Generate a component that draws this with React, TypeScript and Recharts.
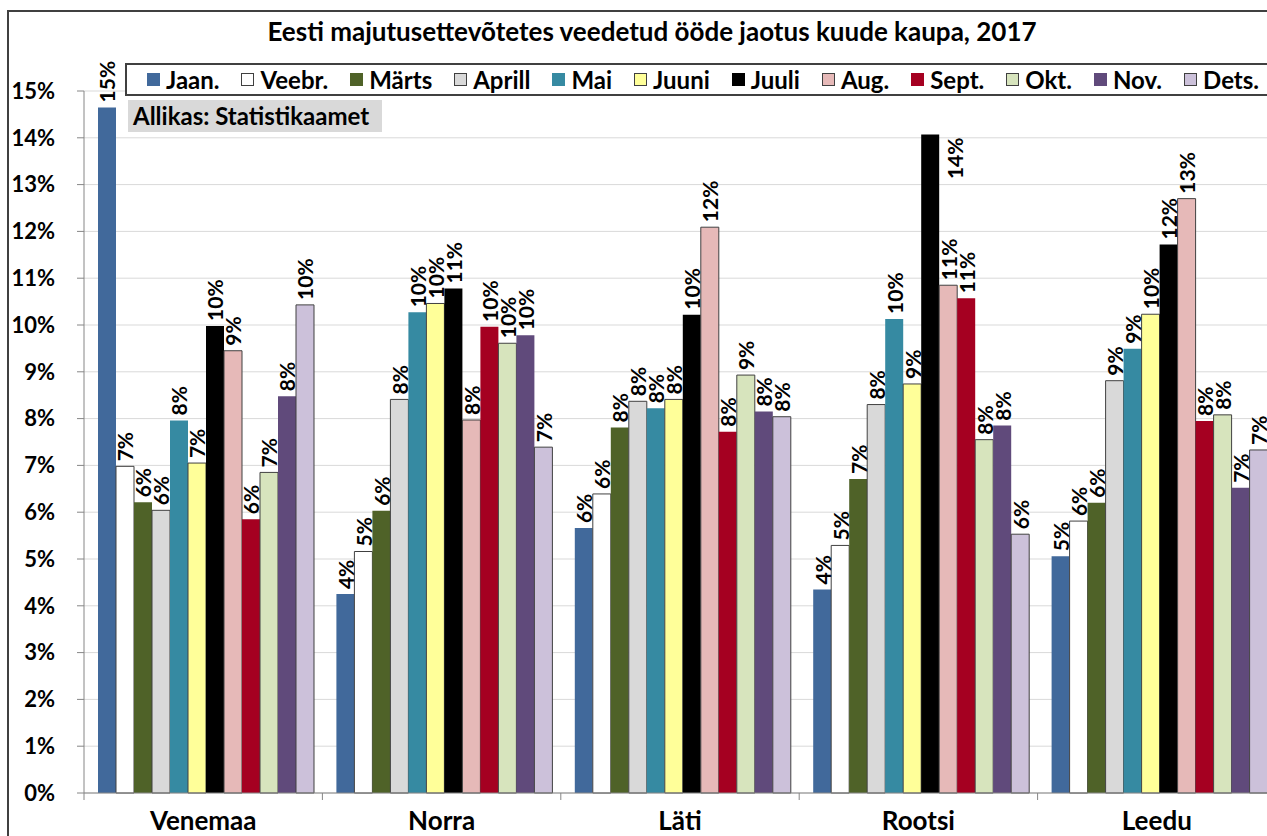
import React from 'react';
import { BarChart, Bar, XAxis, YAxis, CartesianGrid, LabelList } from 'recharts';

const FONT = 'Lato, "Open Sans", sans-serif';

// countries (categories)
const countries = ['Venemaa', 'Norra', 'Läti', 'Rootsi', 'Leedu'];

// share of nights by month, % (Venemaa, Norra, Läti, Rootsi, Leedu)
const jaan = [14.65, 4.25, 5.66, 4.35, 5.06];
const veebr = [6.98, 5.16, 6.39, 5.29, 5.81];
const marts = [6.21, 6.03, 7.81, 6.71, 6.2];
const aprill = [6.04, 8.41, 8.37, 8.3, 8.81];
const mai = [7.96, 10.27, 8.22, 10.13, 9.49];
const juuni = [7.05, 10.46, 8.41, 8.74, 10.23];
const juuli = [9.98, 10.78, 10.22, 14.07, 11.72];
const aug = [9.45, 7.97, 12.09, 10.85, 12.7];
const sept = [5.85, 9.96, 7.72, 10.57, 7.95];
const okt = [6.85, 9.61, 8.93, 7.55, 8.08];
const nov = [8.48, 9.78, 8.15, 7.85, 6.52];
const dets = [10.43, 7.39, 8.04, 5.53, 7.33];

const yTicks = [0, 1, 2, 3, 4, 5, 6, 7, 8, 9, 10, 11, 12, 13, 14, 15];

const series = [
    { key: 'jaan', name: 'Jaan.', values: jaan, fill: '#41699b', outline: false },
    { key: 'veebr', name: 'Veebr.', values: veebr, fill: '#ffffff', outline: true },
    { key: 'marts', name: 'Märts', values: marts, fill: '#4f6228', outline: false },
    { key: 'aprill', name: 'Aprill', values: aprill, fill: '#d9d9d9', outline: true },
    { key: 'mai', name: 'Mai', values: mai, fill: '#368aa2', outline: false },
    { key: 'juuni', name: 'Juuni', values: juuni, fill: '#ffff99', outline: true },
    { key: 'juuli', name: 'Juuli', values: juuli, fill: '#000000', outline: false },
    { key: 'aug', name: 'Aug.', values: aug, fill: '#e6b9b8', outline: true },
    { key: 'sept', name: 'Sept.', values: sept, fill: '#a50021', outline: false },
    { key: 'okt', name: 'Okt.', values: okt, fill: '#d7e4bd', outline: true },
    { key: 'nov', name: 'Nov.', values: nov, fill: '#604a7b', outline: false },
    { key: 'dets', name: 'Dets.', values: dets, fill: '#ccc1da', outline: true },
];

const data = countries.map((country, i) => {
    const row: Record<string, any> = { country };
    series.forEach(s => { row[s.key] = s.values[i]; });
    return row;
});

const PLOT_LEFT = 84;
const PLOT_RIGHT_MARGIN = 16;
const PLOT_W = 1192;
const CHART_W = PLOT_LEFT + PLOT_W + PLOT_RIGHT_MARGIN;
const CHART_H = 836;
const PLOT_TOP = 91;
const X_AXIS_H = 43;
const LEGEND_LEFT = 125;
const LEGEND_TOP = 63;
const LEGEND_BOTTOM = 94;
const LABEL_SIZE = 21;

const XTick = (props: any) => {
    const { x, y, payload } = props;
    const half = PLOT_W / countries.length / 2;
    return (
        <g>
            <line x1={x - half} x2={x - half} y1={y} y2={y + 7} stroke="#868686" strokeWidth={1} />
            <text x={x} y={y + 27} textAnchor="middle" dominantBaseline="central"
                style={{ fontFamily: FONT, fontWeight: 700, fontSize: 26, fill: '#000' }}>
                {payload.value}
            </text>
        </g>
    );
};

const ValueLabel = (props: any) => {
    const x = Number(props.x);
    const y = Number(props.y);
    const w = Number(props.width);
    const text = `${Math.round(Number(props.value))}%`;
    const len = text.length * LABEL_SIZE * 0.66;
    let cx = x + w / 2;
    let ty = y - 5;
    let anchor: 'start' | 'end' = 'start';
    // Excel pushed labels that would run into the legend to the side of the bar
    if (ty - len < LEGEND_BOTTOM + 4 && x > LEGEND_LEFT) {
        cx = x + w + 15;
        ty = y + 3;
        anchor = 'end';
    }
    return (
        <text x={cx} y={ty} transform={`rotate(-90 ${cx} ${ty})`} textAnchor={anchor} dominantBaseline="central"
            style={{ fontFamily: FONT, fontWeight: 700, fontSize: LABEL_SIZE, fill: '#000' }}>
            {text}
        </text>
    );
};

const LegendBox = () => (
    <div style={{
        position: 'absolute', left: LEGEND_LEFT, top: LEGEND_TOP,
        display: 'flex', alignItems: 'center', height: 29, width: 1300, paddingLeft: 20,
        border: '2px solid #404040', background: '#fff', boxSizing: 'content-box',
    }}>
        {series.map(s => (
            <div key={s.key} style={{ display: 'flex', alignItems: 'center', marginRight: 22 }}>
                <span style={{
                    display: 'inline-block', width: 13, height: 13, background: s.fill, marginRight: 6,
                    border: s.outline ? '1px solid #404040' : `1px solid ${s.fill}`, boxSizing: 'border-box',
                }} />
                <span style={{ fontFamily: FONT, fontWeight: 700, fontSize: 24, color: '#000', lineHeight: '29px' }}>
                    {s.name}
                </span>
            </div>
        ))}
    </div>
);

export default function App() {
    return (
        <div style={{ position: 'relative', width: 1267, height: 836, overflow: 'hidden', background: '#fff' }}>
            <style>{'body{margin:0}'}</style>
            <div style={{
                position: 'absolute', left: 7, top: 10, width: 1400, height: 1000,
                border: '2px solid #404040', boxSizing: 'border-box',
            }} />
            <BarChart
                width={CHART_W}
                height={CHART_H}
                data={data}
                margin={{ top: PLOT_TOP, right: PLOT_RIGHT_MARGIN, bottom: 0, left: 0 }}
                barCategoryGap={14}
                barGap={0}
            >
                <CartesianGrid vertical={false} stroke="#d9d9d9" />
                <XAxis
                    dataKey="country"
                    height={X_AXIS_H}
                    tickSize={0}
                    tickMargin={0}
                    axisLine={{ stroke: '#868686' }}
                    tickLine={false}
                    tick={<XTick />}
                />
                <YAxis
                    width={PLOT_LEFT}
                    domain={[0, 15]}
                    ticks={yTicks}
                    interval={0}
                    tickFormatter={(v: number) => `${v}%`}
                    axisLine={{ stroke: '#868686' }}
                    tickLine={{ stroke: '#868686' }}
                    tickSize={7}
                    tickMargin={22}
                    tick={{ fontFamily: FONT, fontWeight: 700, fontSize: 22, fill: '#000' }}
                />
                {series.map(s => (
                    <Bar
                        key={s.key}
                        dataKey={s.key}
                        name={s.name}
                        fill={s.fill}
                        stroke={s.outline ? '#404040' : 'none'}
                        strokeWidth={1}
                        isAnimationActive={false}
                    >
                        <LabelList dataKey={s.key} content={<ValueLabel />} />
                    </Bar>
                ))}
            </BarChart>
            <LegendBox />
            <div style={{
                position: 'absolute', left: 0, top: 16, width: 1304, textAlign: 'center',
                fontFamily: FONT, fontWeight: 700, fontSize: 26, color: '#000', lineHeight: '30px',
            }}>
                Eesti majutusettevõtetes veedetud ööde jaotus kuude kaupa, 2017
            </div>
            <div style={{
                position: 'absolute', left: 128, top: 100, width: 254, height: 32, background: '#d9d9d9',
                fontFamily: FONT, fontWeight: 700, fontSize: 24, color: '#000', lineHeight: '32px',
                paddingLeft: 5, boxSizing: 'border-box', whiteSpace: 'nowrap',
            }}>
                Allikas: Statistikaamet
            </div>
        </div>
    );
}
